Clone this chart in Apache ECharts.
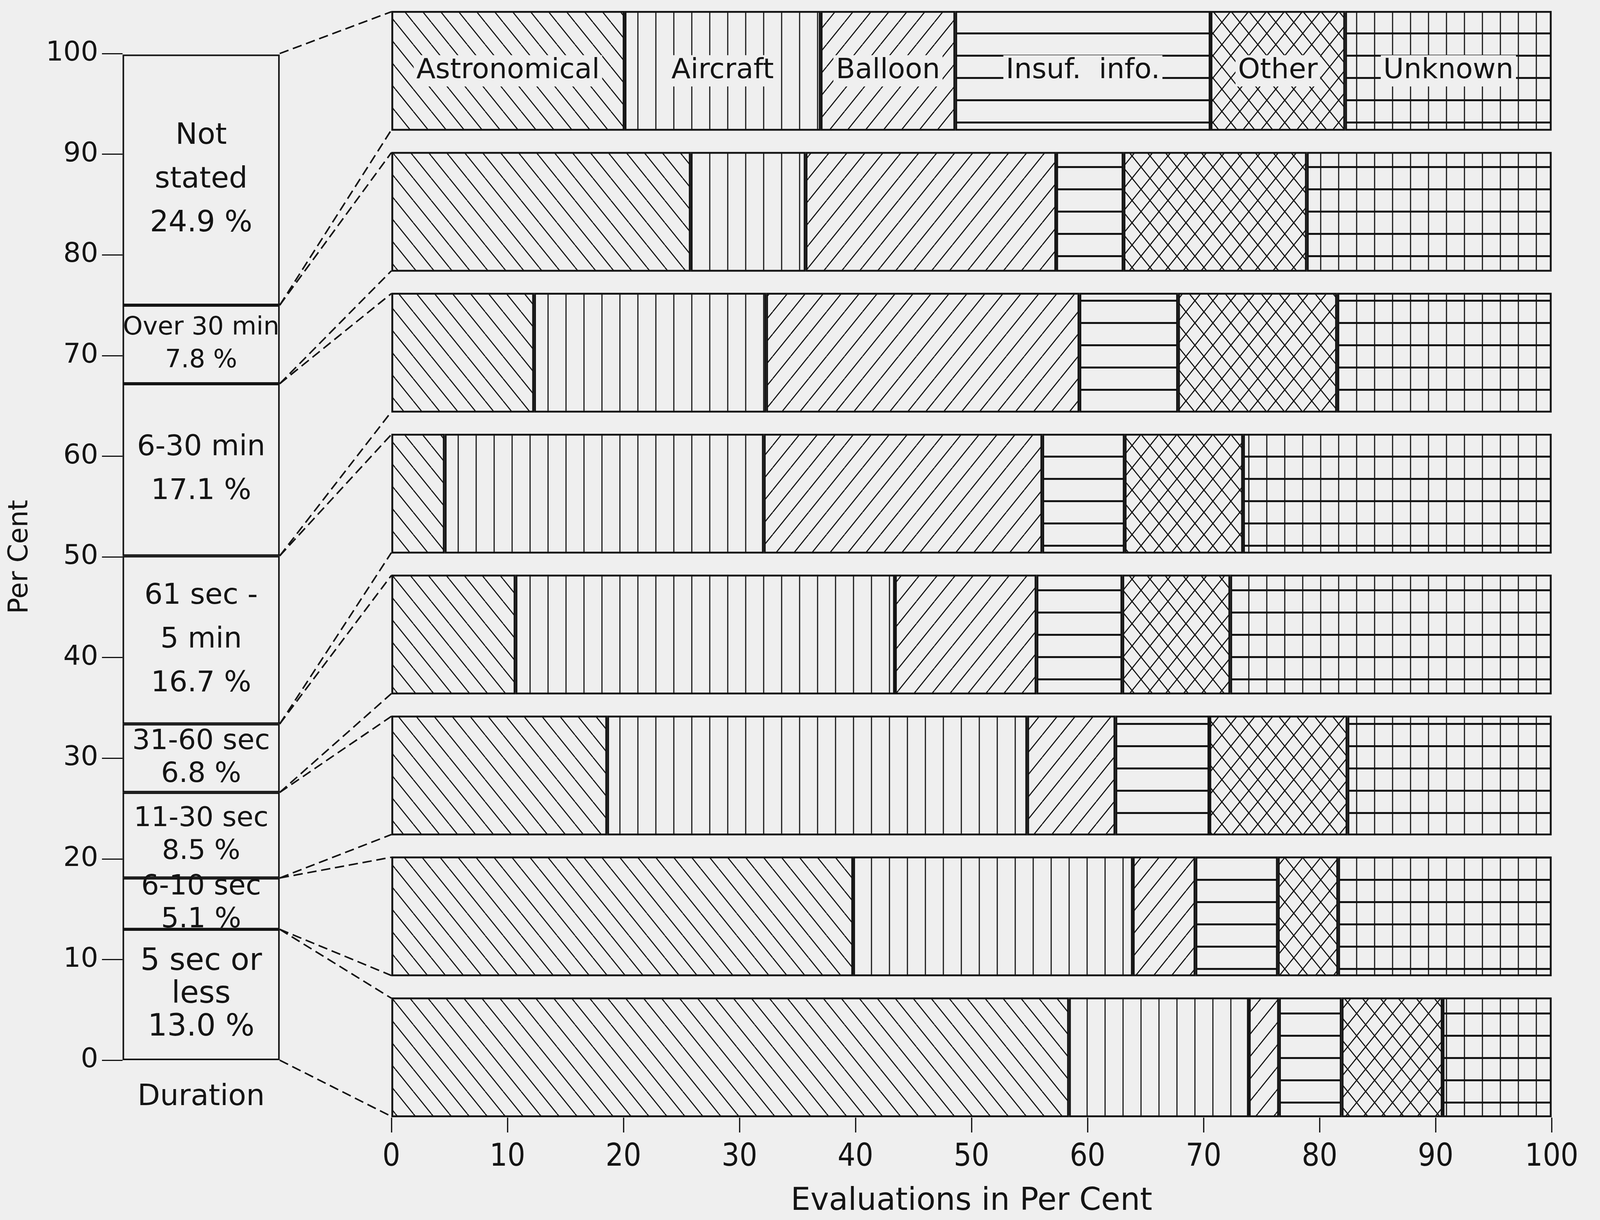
<!DOCTYPE html>
<html><head><meta charset="utf-8">
<script src="https://cdn.jsdelivr.net/npm/echarts@6/dist/echarts.min.js"></script>
<style>html,body{margin:0;padding:0;background:#efefef;overflow:hidden}#c{width:100vw;height:100vh}</style>
</head><body><div id="c"></div>
<script>
// ---- data (bottom-to-top order) ----
const durationLabels = ['5 sec or\nless', '6-10 sec', '11-30 sec', '31-60 sec', '61 sec -\n5 min', '6-30 min', 'Over 30 min', 'Not\nstated'];
const durationShares = [13.0, 5.1, 8.5, 6.8, 16.7, 17.1, 7.8, 24.9];
const evaluationNames = ['Astronomical', 'Aircraft', 'Balloon', 'Insuf. info.', 'Other', 'Unknown'];
const astronomical = [58.4, 39.8, 18.6, 10.7, 4.6, 12.3, 25.8, 20.1];
const aircraft     = [15.5, 24.1, 36.2, 32.7, 27.5, 20.0, 9.9, 16.9];
const balloon      = [2.6, 5.4, 7.6, 12.2, 24.0, 27.0, 21.6, 11.6];
const insufInfo    = [5.4, 7.1, 8.1, 7.4, 7.1, 8.5, 5.8, 22.0];
const other        = [8.7, 5.2, 11.9, 9.3, 10.2, 13.7, 15.8, 11.6];
const unknown      = [9.4, 18.4, 17.6, 27.7, 26.6, 18.5, 21.1, 17.8];
const leftAxisName = 'Per Cent';
const leftCategory = ['Duration'];
const rightAxisName = 'Evaluations in Per Cent';

// ---- styles (design units are reference pixels, scaled to the viewport) ----
const SX = window.innerWidth / 5131, SY = window.innerHeight / 3122;
const X = v => v * SX, Y = v => v * SY, F = v => v * SX;
const BG = '#efefef', INK = '#141414';
const FONT = 'DejaVu Sans';
const FONT_NARROW = "'DejaVu Sans Condensed', 'Liberation Sans Narrow', 'DejaVu Sans'";
const durationFont = [98, 90, 88, 90, 92, 92, 81, 94];   // label size per duration box (ref px)

function pattern(kind) {
  const r = window.devicePixelRatio || 1;
  const w = Math.max(4, Math.round(X(57) * r)), h = Math.max(4, Math.round(Y(57) * r));
  const c = document.createElement('canvas');
  c.width = w; c.height = h;
  const g = c.getContext('2d');
  g.fillStyle = BG; g.fillRect(0, 0, w, h);
  g.strokeStyle = INK;
  const lw = X(3.6) * r;
  const line = (x1, y1, x2, y2, lwid) => { g.lineWidth = lwid || lw; g.beginPath(); g.moveTo(x1, y1); g.lineTo(x2, y2); g.stroke(); };
  if (kind === 'back' || kind === 'cross') for (let k = -1; k <= 1; k++) line(k * w, 0, k * w + w, h);
  if (kind === 'fwd' || kind === 'cross') for (let k = 0; k <= 2; k++) line(k * w, 0, k * w - w, h);
  if (kind === 'vert' || kind === 'grid') line(w / 2, 0, w / 2, h);
  if (kind === 'horiz' || kind === 'grid') line(0, h / 2, w, h / 2, Y(5) * r);
  return { image: c, repeat: 'repeat', scaleX: 1 / r, scaleY: 1 / r };
}
const kinds = ['back', 'vert', 'fwd', 'horiz', 'cross', 'grid'];
const rightData = [astronomical, aircraft, balloon, insufInfo, other, unknown];

const LEFT = { x: X(393), w: X(504), top: Y(137), h: Y(2576) };
const RIGHT = { x: X(1255), w: X(3721), top: Y(1), h: Y(2885) };

const chart = echarts.init(document.getElementById('c'), null, { renderer: 'canvas' });

const leftSeries = durationLabels.map((n, i) => ({
  type: 'bar', xAxisIndex: 0, yAxisIndex: 0, stack: 'dur', barWidth: '100%',
  data: [durationShares[i]],
  itemStyle: { color: BG, borderColor: INK, borderWidth: X(5) },
  label: {
    show: true, position: 'inside', color: INK, fontFamily: FONT,
    fontSize: F(durationFont[i]), lineHeight: Y(durationShares[i] > 15 ? 112 : 84),
    formatter: n + '\n' + durationShares[i].toFixed(1) + ' %'
  },
  emphasis: { disabled: true }, silent: true
}));

const last = durationLabels.length - 1;
const rightSeries = evaluationNames.map((n, k) => ({
  type: 'bar', name: n, xAxisIndex: 1, yAxisIndex: 1, stack: 'ev', barCategoryGap: '15%',
  data: rightData[k].map((v, i) => i === last ? { value: v, label: { show: true } } : v),
  itemStyle: { color: pattern(kinds[k]), borderColor: INK, borderWidth: X(6) },
  label: {
    show: false, position: 'inside', color: INK, fontFamily: FONT, fontSize: F(90),
    backgroundColor: BG, padding: [Y(4), X(8)],
    formatter: n === 'Insuf. info.' ? 'Insuf.  info.' : '{a}'
  },
  emphasis: { disabled: true }, silent: true
}));

const option = {
  animation: false,
  backgroundColor: BG,
  textStyle: { fontFamily: FONT, color: INK },
  grid: [
    { left: LEFT.x, top: LEFT.top, width: LEFT.w, height: LEFT.h },
    { left: RIGHT.x, top: RIGHT.top, width: RIGHT.w, height: RIGHT.h }
  ],
  xAxis: [
    { gridIndex: 0, type: 'category', data: leftCategory,
      axisLine: { show: false }, axisTick: { show: false },
      axisLabel: { fontSize: F(94), color: INK, margin: Y(58), fontFamily: FONT } },
    { gridIndex: 1, type: 'value', min: 0, max: 100, interval: 10, offset: -Y(26),
      axisLine: { show: false }, splitLine: { show: false },
      axisTick: { show: true, length: Y(38), lineStyle: { color: INK, width: X(4) } },
      axisLabel: { fontSize: F(100), color: INK, margin: Y(62), fontFamily: FONT_NARROW },
      name: rightAxisName, nameLocation: 'middle', nameGap: Y(175),
      nameTextStyle: { fontSize: F(100), color: INK, fontFamily: FONT } }
  ],
  yAxis: [
    { gridIndex: 0, type: 'value', min: 0, max: 100, interval: 10,
      axisLine: { show: false }, splitLine: { show: false },
      axisTick: { show: true, length: X(66), lineStyle: { color: INK, width: X(4) } },
      axisLabel: { fontSize: F(88), color: INK, margin: X(78), fontFamily: FONT },
      name: leftAxisName, nameLocation: 'middle', nameRotate: 90, nameGap: X(285),
      nameTextStyle: { fontSize: F(86), color: INK, fontFamily: FONT } },
    { gridIndex: 1, type: 'category', data: durationLabels, show: false }
  ],
  series: leftSeries.concat(rightSeries)
};
chart.setOption(option);

// dashed connectors from duration boundaries to each evaluation bar
const boxRight = LEFT.x + LEFT.w;
const barLeft = chart.convertToPixel({ xAxisIndex: 1 }, 0);
const layData = chart.getModel().getSeriesByIndex(leftSeries.length).getData();
const cum = [0];
durationShares.forEach(v => cum.push(cum[cum.length - 1] + v));
const graphics = [];
const seg = (x1, y1, x2, y2) => ({ type: 'line', silent: true, z: 10,
  shape: { x1, y1, x2, y2 }, style: { stroke: INK, lineWidth: X(5), lineDash: [X(30), X(15)] } });
for (let i = 0; i < durationLabels.length; i++) {
  const L = layData.getItemLayout(i);
  const yTop = Math.min(L.y, L.y + L.height), yBot = Math.max(L.y, L.y + L.height);
  const yLo = chart.convertToPixel({ yAxisIndex: 0 }, cum[i]);
  const yHi = chart.convertToPixel({ yAxisIndex: 0 }, i === last ? 100 : cum[i + 1]);
  graphics.push(seg(boxRight, yLo, barLeft, yBot - Y(2)), seg(boxRight, yHi, barLeft, yTop + Y(2)));
}
chart.setOption({ graphic: graphics });
</script></body></html>
